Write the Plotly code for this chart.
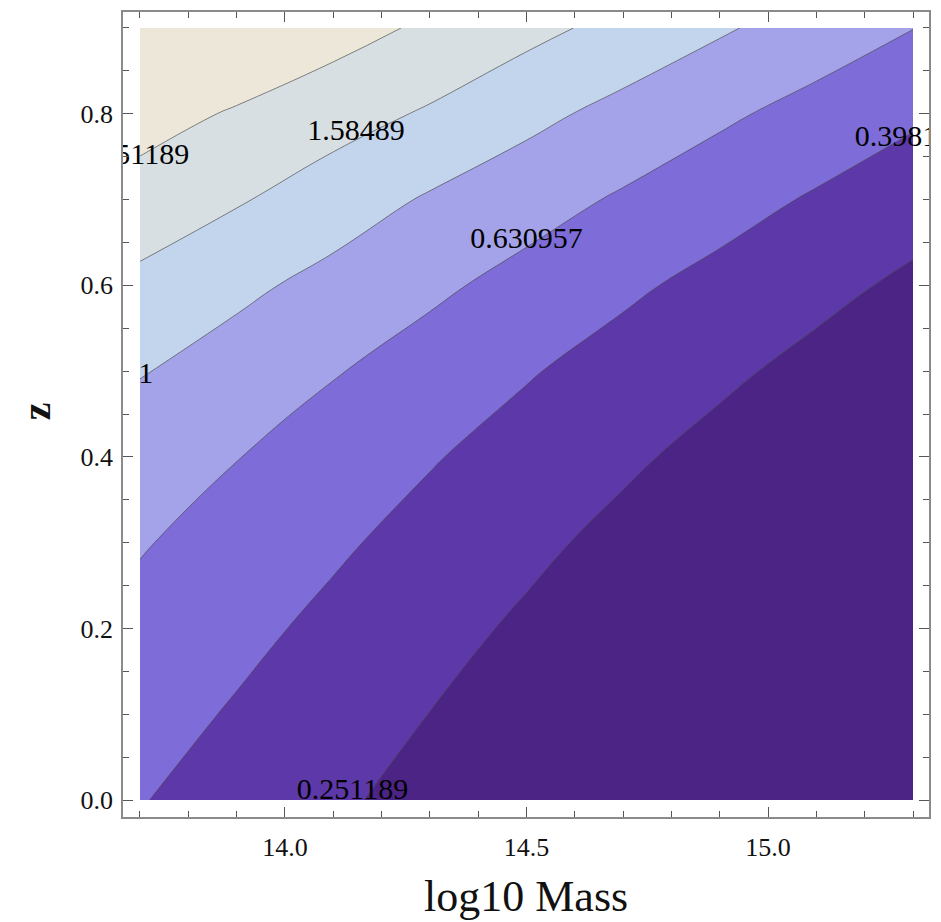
import plotly.graph_objects as go

# ---- data ----
log_mass = [13.7, 13.9, 14.1, 14.3, 14.5, 14.7, 14.9, 15.1, 15.3]
redshift = [0.0, 0.1, 0.2, 0.3, 0.4, 0.5, 0.6, 0.7, 0.8, 0.9]
# log10 of the plotted quantity, rows follow redshift, columns follow log_mass
log10_value = [
    [-0.391, -0.481, -0.571, -0.661, -0.751, -0.840, -0.930, -1.020, -1.110],
    [-0.326, -0.418, -0.510, -0.602, -0.694, -0.786, -0.878, -0.970, -1.062],
    [-0.258, -0.351, -0.444, -0.537, -0.630, -0.723, -0.816, -0.909, -1.002],
    [-0.186, -0.279, -0.372, -0.465, -0.558, -0.651, -0.744, -0.837, -0.930],
    [-0.100, -0.195, -0.290, -0.386, -0.477, -0.568, -0.659, -0.750, -0.841],
    [0.010, -0.089, -0.188, -0.286, -0.385, -0.476, -0.564, -0.653, -0.742],
    [0.154, 0.045, -0.060, -0.162, -0.263, -0.365, -0.458, -0.547, -0.636],
    [0.319, 0.218, 0.099, -0.020, -0.121, -0.223, -0.323, -0.421, -0.515],
    [0.479, 0.380, 0.281, 0.178, 0.054, -0.059, -0.166, -0.268, -0.368],
    [0.700, 0.589, 0.478, 0.367, 0.256, 0.141, 0.023, -0.089, -0.197],
]
level_exponents = [-0.6, -0.4, -0.2, 0.0, 0.2, 0.4]
band_colors = ["#4b2486", "#5d38a9", "#7e6cd9", "#a4a2e8", "#c3d5ec", "#d8dfe2", "#ede7d9"]

# where each contour label sits (mass, z), one per level
label_mass = [14.140, 15.296, 14.500, 13.712, 14.147, 13.702]
label_z = [0.010, 0.771, 0.652, 0.495, 0.778, 0.750]

label_text = [f"{10 ** e:.6g}" for e in level_exponents]

n = len(band_colors) - 1
colorscale = [[i / n, c] for i, c in enumerate(band_colors)]

fig = go.Figure()
fig.add_trace(go.Contour(
    x=log_mass, y=redshift, z=log10_value,
    autocontour=False,
    contours=dict(start=level_exponents[0], end=level_exponents[-1],
                  size=0.2, coloring="fill", showlines=True),
    line=dict(color="rgba(70,70,70,0.65)", width=1, smoothing=1.3),
    colorscale=colorscale, showscale=False, hoverinfo="skip",
))
fig.add_trace(go.Scatter(
    x=label_mass, y=label_z, text=label_text, mode="text",
    textposition="middle center", cliponaxis=True,
    textfont=dict(family="Liberation Serif", size=30, color="#000"),
    hoverinfo="skip", showlegend=False,
))

frame = dict(showline=True, linecolor="#8a8a8a", linewidth=1.5, mirror="allticks",
             ticks="inside", ticklen=10, tickwidth=1.2, tickcolor="#555",
             showgrid=False, zeroline=False,
             tickfont=dict(family="Liberation Serif", size=26, color="#111"))

fig.update_xaxes(range=[13.6649, 15.3331], tick0=14.0, dtick=0.5, tickformat=".1f",
                 minor=dict(ticks="inside", ticklen=6, tickwidth=1, tickcolor="#555",
                            tick0=14.0, dtick=0.1, showgrid=False),
                 ticklabelstandoff=6, **frame)
fig.update_yaxes(range=[-0.01977, 0.91860], tick0=0.0, dtick=0.2, tickformat=".1f",
                 minor=dict(ticks="inside", ticklen=6, tickwidth=1, tickcolor="#555",
                            tick0=0.0, dtick=0.05, showgrid=False),
                 ticklabelstandoff=3, **frame)

fig.update_layout(
    width=941, height=922,
    margin=dict(l=123, r=11, t=10, b=105),
    paper_bgcolor="white", plot_bgcolor="white",
    showlegend=False,
    annotations=[
        dict(text="log10 Mass", xref="paper", yref="paper", x=0.5006, y=-0.0991,
             xanchor="center", yanchor="middle", showarrow=False,
             font=dict(family="Liberation Serif", size=44, color="#111")),
        dict(text="<b>z</b>", xref="paper", yref="paper", x=-0.1078, y=0.5043,
             xanchor="center", yanchor="middle", showarrow=False, textangle=-90,
             font=dict(family="Liberation Serif", size=40, color="#111")),
    ],
)

fig.write_html("out.html")
